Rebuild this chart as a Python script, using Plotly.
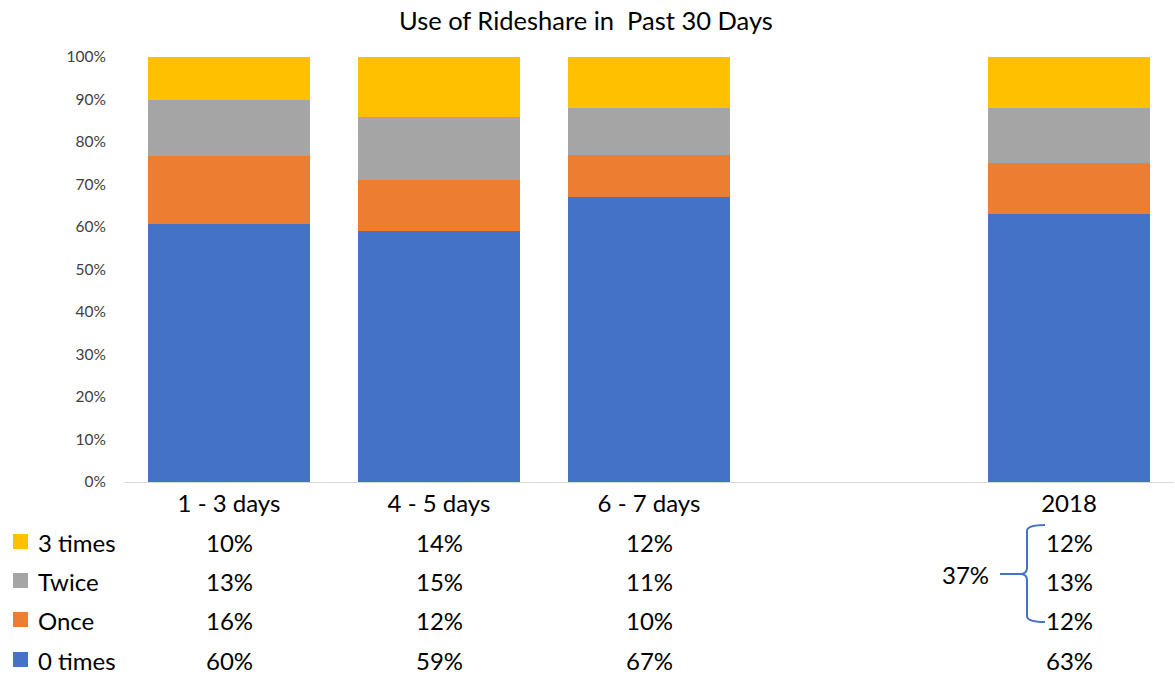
import plotly.graph_objects as go

categories = ["1 - 3 days", "4 - 5 days", "6 - 7 days", " ", "2018"]
series_names = ["0 times", "Once", "Twice", "3 times"]
zero_times = [60, 59, 67, None, 63]
once = [16, 12, 10, None, 12]
twice = [13, 15, 11, None, 13]
three_times = [10, 14, 12, None, 12]
bracket_total = "37%"
y_tick_values = list(range(0, 101, 10))
y_tick_labels = [f"{v}%" for v in y_tick_values]
colors = ["#4472C4", "#ED7D31", "#A5A5A5", "#FFC000"]
title_text = "Use of Rideshare in  Past 30 Days"

values = [zero_times, once, twice, three_times]

W, H = 1175, 683
L, R, T, B = 124, 1, 57, 201
PW = W - L - R
PH = H - T - B


def px_x(px):
    return (px - L) / PW


def px_y(py):
    return (H - B - py) / PH


fig = go.Figure()
for name, vals, col in zip(series_names, values, colors):
    fig.add_trace(go.Bar(x=categories, y=vals, name=name, marker_color=col,
                         marker_line_width=0, showlegend=False))

font_main = "Lato, 'Open Sans', sans-serif"
TS = 24

annotations = [
    dict(text=title_text, x=px_x(586), xref="paper", xanchor="center",
         y=px_y(20), yref="paper", yanchor="middle", showarrow=False,
         font=dict(family=font_main, size=25.5, color="#000000"))
]
shapes = []

row_y = {"3 times": 542, "Twice": 581, "Once": 620, "0 times": 660}
for name, vals, col in zip(series_names, values, colors):
    yy = px_y(row_y[name])
    shapes.append(dict(type="rect", xref="paper", yref="paper",
                       x0=px_x(13), x1=px_x(28),
                       y0=px_y(row_y[name] + 7), y1=px_y(row_y[name] - 8),
                       fillcolor=col, line_width=0))
    annotations.append(dict(text=name, x=px_x(36), xref="paper", xanchor="left",
                            y=yy, yref="paper", yanchor="middle", showarrow=False,
                            font=dict(family=font_main, size=TS, color="#000000")))
    for i, v in enumerate(vals):
        if v is None:
            continue
        annotations.append(dict(text=f"{v}%", x=i, xref="x", xanchor="center",
                                y=yy, yref="paper", yanchor="middle", showarrow=False,
                                font=dict(family=font_main, size=TS, color="#000000")))

x_end, x_spine, x_tip = px_x(1045), px_x(1027), px_x(1000)
y_top, y_mid, y_bot = px_y(525), px_y(574), px_y(622)
path = (f"M {x_end},{y_top} Q {x_spine},{y_top} {x_spine},{px_y(531)} "
        f"L {x_spine},{px_y(568)} Q {x_spine},{y_mid} {px_x(1020)},{y_mid} "
        f"L {x_tip},{y_mid} M {px_x(1020)},{y_mid} Q {x_spine},{y_mid} {x_spine},{px_y(580)} "
        f"L {x_spine},{px_y(616)} Q {x_spine},{y_bot} {x_end},{y_bot}")
shapes.append(dict(type="path", xref="paper", yref="paper", path=path,
                   line=dict(color="#4472C4", width=2)))
annotations.append(dict(text=bracket_total, x=px_x(965), xref="paper", xanchor="center",
                        y=y_mid, yref="paper", yanchor="middle", showarrow=False,
                        font=dict(family=font_main, size=TS, color="#000000")))

fig.update_layout(
    barmode="stack", barnorm="percent", bargap=0.23,
    width=W, height=H,
    margin=dict(l=L, r=R, t=T, b=B, pad=0, autoexpand=False),
    plot_bgcolor="white", paper_bgcolor="white",
    annotations=annotations, shapes=shapes,
    xaxis=dict(type="category", showgrid=False, showline=True, linecolor="#D9D9D9",
               linewidth=1, ticks="", automargin=False,
               tickfont=dict(family=font_main, size=TS, color="#000000"),
               categoryorder="array", categoryarray=categories),
    yaxis=dict(range=[0, 100], tickmode="array", tickvals=y_tick_values,
               ticktext=y_tick_labels, automargin=False,
               showgrid=False, zeroline=False, showline=False, ticks="",
               tickfont=dict(family=font_main, size=15.5, color="#404040"),
               ticklabelstandoff=17),
)

fig.write_html("out.html", config={"displayModeBar": False},
               post_script="document.body.style.margin='0';")
